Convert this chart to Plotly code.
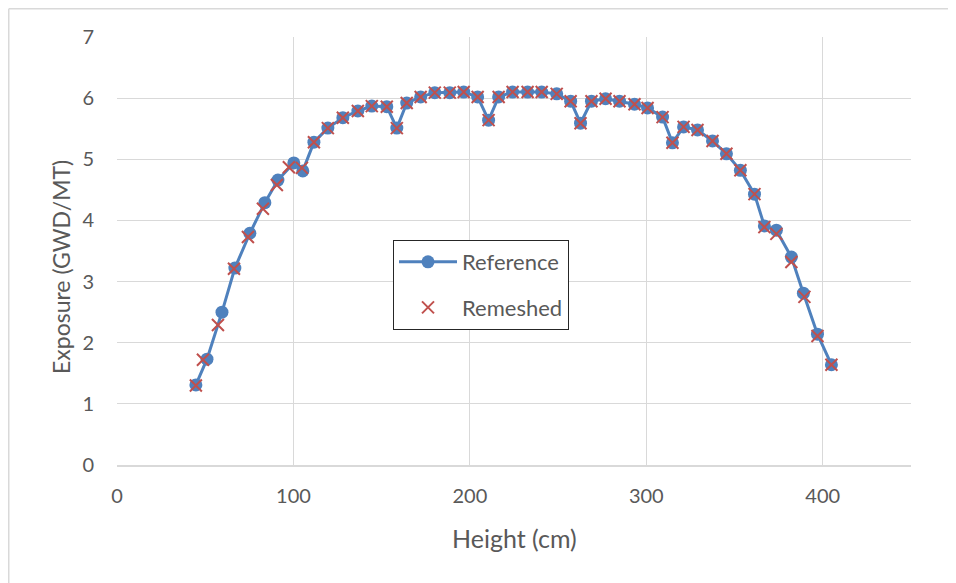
import plotly.graph_objects as go

# Reference series
ref_height = [44.7, 51.0, 59.5, 66.8, 75.3, 83.8, 91.2, 100.2, 105.3, 111.6,
              119.5, 128.0, 136.5, 144.4, 152.9, 158.6, 164.2, 172.1, 180.1, 188.6,
              196.5, 204.4, 210.6, 216.3, 224.2, 232.7, 240.7, 249.2, 257.1, 262.7,
              268.9, 276.9, 284.8, 293.3, 300.7, 309.2, 314.8, 321.1, 329.0, 337.5,
              345.4, 353.3, 361.3, 366.9, 373.7, 382.2, 389.0, 397.0, 404.9]
ref_exposure = [1.31, 1.73, 2.50, 3.22, 3.79, 4.29, 4.66, 4.94, 4.81, 5.28,
                5.51, 5.68, 5.79, 5.87, 5.86, 5.51, 5.92, 6.02, 6.09, 6.09,
                6.10, 6.02, 5.64, 6.02, 6.10, 6.10, 6.10, 6.07, 5.95, 5.59,
                5.95, 5.99, 5.95, 5.90, 5.84, 5.69, 5.27, 5.53, 5.48, 5.30,
                5.09, 4.82, 4.43, 3.91, 3.84, 3.40, 2.81, 2.14, 1.64]

# Remeshed series
rem_height = [44.7, 48.7, 57.2, 66.3, 74.2, 82.7, 90.6, 97.4, 104.8, 111.6,
              119.5, 128.0, 136.5, 144.4, 152.9, 158.6, 164.2, 172.1, 180.1, 188.6,
              196.5, 204.4, 210.6, 216.3, 224.2, 232.7, 240.7, 249.2, 257.1, 262.7,
              268.9, 276.9, 284.8, 293.3, 300.7, 309.2, 314.8, 321.1, 329.0, 337.5,
              345.4, 353.3, 361.3, 366.9, 373.7, 382.2, 389.6, 397.0, 404.9]
rem_exposure = [1.30, 1.72, 2.29, 3.21, 3.73, 4.19, 4.58, 4.87, 4.86, 5.28,
                5.51, 5.68, 5.79, 5.87, 5.86, 5.51, 5.92, 6.02, 6.09, 6.09,
                6.10, 6.02, 5.64, 6.02, 6.10, 6.10, 6.10, 6.07, 5.95, 5.59,
                5.95, 5.99, 5.95, 5.90, 5.84, 5.69, 5.27, 5.53, 5.48, 5.30,
                5.09, 4.82, 4.43, 3.89, 3.78, 3.32, 2.75, 2.11, 1.64]

x_ticks = [0, 100, 200, 300, 400]
y_ticks = [0, 1, 2, 3, 4, 5, 6, 7]
x_title = "Height (cm)"
y_title = "Exposure (GWD/MT)"

TEXT = "#595959"
GRID = "#D9D9D9"
FONT = "Lato"

# page body has an 8px margin; plot area target: x 117..911, y 37..465 on screen
L, T = 109, 29
PW, PH = 794, 428


def px_x(sx):
    return (sx - 8 - L) / PW


def px_y(sy):
    return (T + PH - (sy - 8)) / PH


fig = go.Figure()
fig.add_trace(go.Scatter(
    x=ref_height, y=ref_exposure, name="Reference", mode="lines+markers",
    line=dict(color="#4F81BD", width=3),
    marker=dict(color="#4F81BD", size=13, symbol="circle"),
    legendgroup="a",
))
fig.add_trace(go.Scatter(
    x=rem_height, y=rem_exposure, name="Remeshed", mode="markers",
    marker=dict(color="#C0504D", size=12, symbol="x-thin",
                line=dict(color="#C0504D", width=2)),
    legendgroup="b",
))

fig.update_layout(
    width=956, height=583,
    margin=dict(l=L, r=956 - L - PW, t=T, b=583 - T - PH),
    paper_bgcolor="white", plot_bgcolor="white",
    font=dict(family=FONT, color=TEXT, size=20),
    showlegend=True,
    legend=dict(
        x=px_x(393), y=px_y(240), xanchor="left", yanchor="top",
        bgcolor="white", bordercolor="#262626", borderwidth=1,
        font=dict(family=FONT, size=22, color=TEXT),
        tracegroupgap=14, traceorder="grouped",
        itemwidth=58, entrywidth=158,
    ),
    xaxis=dict(
        range=[0, 450], tickvals=x_ticks, showgrid=True, gridcolor=GRID, gridwidth=1,
        showline=True, linecolor=GRID, linewidth=2, zeroline=False,
        ticks="", ticklabelstandoff=12,
        tickfont=dict(size=20, color=TEXT),
    ),
    yaxis=dict(
        range=[0, 7], tickvals=y_ticks, showgrid=True, gridcolor=GRID, gridwidth=1,
        showline=False, zeroline=False,
        ticks="", ticklabelstandoff=22,
        tickfont=dict(size=20, color=TEXT),
    ),
    annotations=[
        dict(text=x_title, xref="paper", yref="paper", x=px_x(514), y=px_y(538),
             xanchor="center", yanchor="middle", showarrow=False,
             font=dict(size=25, color=TEXT, family=FONT)),
        dict(text=y_title, xref="paper", yref="paper", x=px_x(61), y=px_y(267),
             xanchor="center", yanchor="middle", showarrow=False, textangle=-90,
             font=dict(size=23, color=TEXT, family=FONT)),
    ],
    shapes=[
        dict(type="line", xref="paper", yref="paper",
             x0=(0.75 - L) / PW, x1=(956 - L) / PW,
             y0=(T + PH - 0.75) / PH, y1=(T + PH - 0.75) / PH,
             line=dict(color=GRID, width=1.5)),
        dict(type="line", xref="paper", yref="paper",
             x0=(0.75 - L) / PW, x1=(0.75 - L) / PW,
             y0=(T + PH - 0.75) / PH, y1=(T + PH - 600) / PH,
             line=dict(color=GRID, width=1.5)),
    ],
)

fig.write_html("out.html")
